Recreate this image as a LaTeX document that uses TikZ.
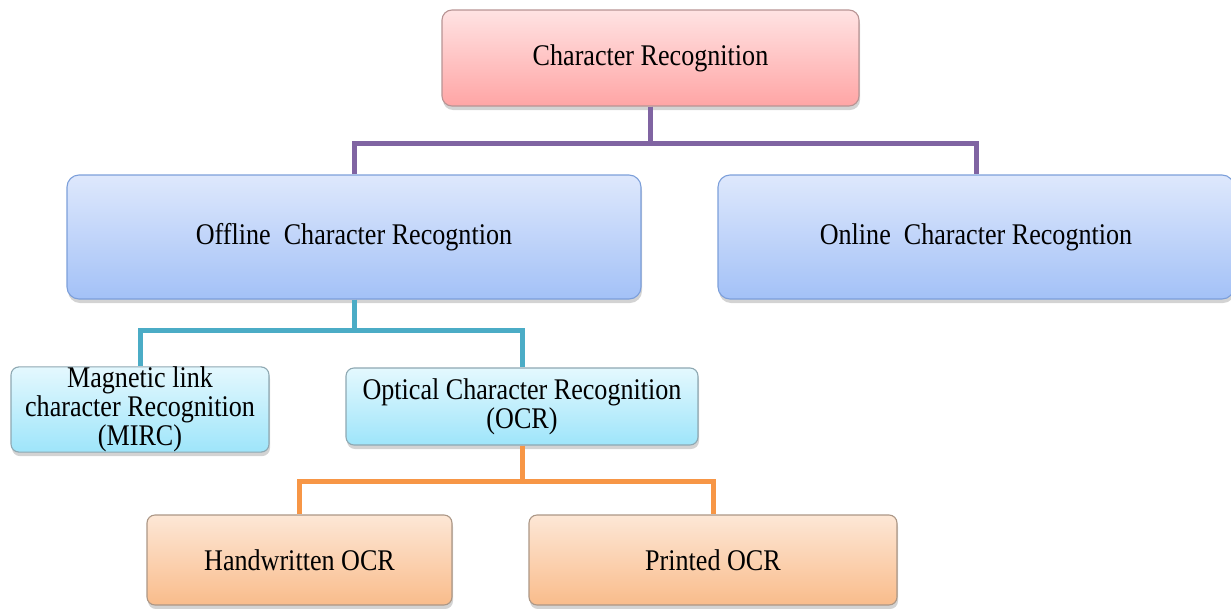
\documentclass[tikz,border=0pt]{standalone}
\usepackage{fontspec}
\setmainfont{Liberation Serif}[FakeStretch=0.87]
\usetikzlibrary{shadows}
\definecolor{pinktop}{HTML}{FFE3E3}
\definecolor{pinkbot}{HTML}{FFA5A5}
\definecolor{pinkline}{HTML}{B89494}
\definecolor{bluetop}{HTML}{DEE8FC}
\definecolor{bluebot}{HTML}{A3C1F7}
\definecolor{blueline}{HTML}{7C9FDA}
\definecolor{cyantop}{HTML}{E4F8FE}
\definecolor{cyanbot}{HTML}{9EE5FA}
\definecolor{cyanline}{HTML}{8EA8B2}
\definecolor{orangetop}{HTML}{FDE7D6}
\definecolor{orangebot}{HTML}{F9BC8B}
\definecolor{orangeline}{HTML}{AC9786}
\definecolor{purplelink}{HTML}{8064A2}
\definecolor{teallink}{HTML}{4BACC6}
\definecolor{orangelink}{HTML}{F79646}
\tikzset{box/.style = {rectangle, rounded corners=10pt, line width=1.1pt, text centered, align=center, font=\fontsize{30}{29}\selectfont, drop shadow={shadow xshift=1pt, shadow yshift=-4pt, opacity=0.35}}}
\tikzset{rootbox/.style = {box, draw=pinkline, top color=pinktop, bottom color=pinkbot, minimum width=417pt, minimum height=96pt}}
\tikzset{modebox/.style = {box, rounded corners=12pt, draw=blueline, top color=bluetop, bottom color=bluebot, minimum height=124pt}}
\tikzset{typebox/.style = {box, rounded corners=8pt, inner ysep=0pt, draw=cyanline, top color=cyantop, bottom color=cyanbot}}
\tikzset{ocrbox/.style = {box, rounded corners=8pt, draw=orangeline, top color=orangetop, bottom color=orangebot, minimum height=90pt}}
\tikzset{link/.style = {line width=5pt}}

\begin{document}
\begin{tikzpicture}[x=1pt, y=-1pt]
	\useasboundingbox (0,0) rectangle (1231,608);
	\node (root) 	[rootbox] at (650.5,58)										{Character Recognition};
	\node (offline) [modebox, minimum width=574pt] at (354,237)					{Offline\ \ Character Recogntion};
	\node (online) 	[modebox, minimum width=516pt] at (976,237)					{Online\ \ Character Recogntion};
	\node (mirc) 	[typebox, minimum width=258pt, minimum height=83pt] at (140,409.5)	{Magnetic link\\character Recognition\\(MIRC)};
	\node (ocr) 	[typebox, minimum width=352pt, minimum height=77pt] at (522,406.5)	{Optical Character Recognition\\(OCR)};
	\node (hand) 	[ocrbox, minimum width=305pt] at (299.5,560)				{Handwritten OCR};
	\node (printed) [ocrbox, minimum width=368pt] at (713,560)					{Printed OCR};
	
	\draw [link, purplelink] (root.south) 	-- ++(0,37) -| (offline.north);
	\draw [link, purplelink] (root.south) 	-- ++(0,37) -| (online.north);
	
	\draw [link, teallink] (offline.south) 	-- ++(0,31) -| (mirc.north);
	\draw [link, teallink] (offline.south) 	-- ++(0,31) -| (ocr.north);
	
	\draw [link, orangelink] (ocr.south) 	-- ++(0,36) -| (hand.north);
	\draw [link, orangelink] (ocr.south) 	-- ++(0,36) -| (printed.north);
\end{tikzpicture}
\end{document}
